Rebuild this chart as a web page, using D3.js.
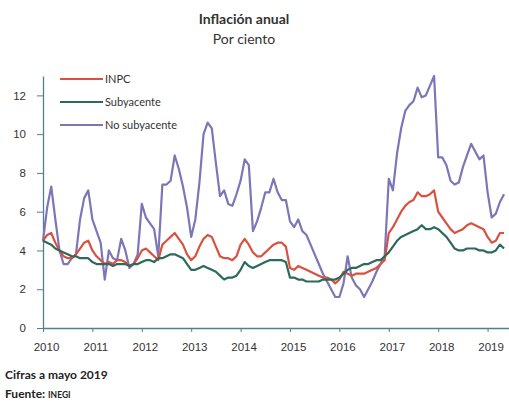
<!DOCTYPE html>
<html>
<head>
<meta charset="utf-8">
<script src="https://cdn.jsdelivr.net/npm/d3@7"></script>
<style>
  body { margin: 0; background: #fff; }
  svg { display: block; font-family: Lato, "Open Sans", sans-serif; }
</style>
</head>
<body>
<div id="chart"></div>
<script>
// Monthly annual inflation, Jan 2010 .. May 2019
const inpc = [
  4.5, 4.8, 4.9, 4.4, 4.0, 3.7, 3.6, 3.6, 3.8, 4.1, 4.4, 4.5,
  4.0, 3.7, 3.5, 3.3, 3.4, 3.3, 3.5, 3.5, 3.4, 3.2, 3.3, 3.6,
  4.0, 4.1, 3.9, 3.7, 3.5, 4.3, 4.5, 4.7, 4.9, 4.6, 4.3, 3.8,
  3.5, 3.7, 4.2, 4.6, 4.8, 4.7, 4.2, 3.7, 3.6, 3.6, 3.5, 3.7,
  4.3, 4.6, 4.3, 3.9, 3.7, 3.7, 3.9, 4.1, 4.3, 4.4, 4.4, 4.2,
  3.1, 3.0, 3.2, 3.1, 3.0, 2.9, 2.8, 2.7, 2.6, 2.6, 2.5, 2.3,
  2.5, 2.9, 2.8, 2.7, 2.8, 2.8, 2.8, 2.9, 3.0, 3.1, 3.3, 3.5,
  4.9, 5.2, 5.6, 6.0, 6.3, 6.5, 6.6, 7.0, 6.8, 6.8, 6.9, 7.1,
  6.0, 5.7, 5.4, 5.1, 4.9, 5.0, 5.1, 5.3, 5.4, 5.3, 5.2, 5.1,
  4.7, 4.4, 4.5, 4.9, 4.9
];
const subyacente = [
  4.5, 4.4, 4.3, 4.1, 4.0, 3.9, 3.8, 3.7, 3.7, 3.6, 3.6, 3.6,
  3.4, 3.3, 3.3, 3.3, 3.3, 3.2, 3.3, 3.3, 3.3, 3.2, 3.3, 3.3,
  3.4, 3.5, 3.5, 3.4, 3.6, 3.6, 3.7, 3.8, 3.8, 3.7, 3.6, 3.3,
  3.0, 3.0, 3.1, 3.2, 3.1, 3.0, 2.9, 2.7, 2.5, 2.6, 2.6, 2.7,
  3.0, 3.4, 3.2, 3.1, 3.2, 3.3, 3.4, 3.5, 3.5, 3.5, 3.5, 3.4,
  2.6, 2.6, 2.5, 2.5, 2.4, 2.4, 2.4, 2.4, 2.5, 2.5, 2.5, 2.5,
  2.6, 2.8, 3.0, 3.1, 3.1, 3.2, 3.3, 3.3, 3.4, 3.5, 3.5, 3.7,
  3.9, 4.2, 4.5, 4.7, 4.8, 4.9, 5.0, 5.1, 5.3, 5.1, 5.1, 5.2,
  5.1, 4.9, 4.7, 4.4, 4.1, 4.0, 4.0, 4.1, 4.1, 4.1, 4.0, 4.0,
  3.9, 3.9, 4.0, 4.3, 4.1
];
const noSubyacente = [
  4.5, 6.2, 7.3, 5.6, 4.0, 3.3, 3.3, 3.6, 3.8, 5.6, 6.7, 7.1,
  5.6, 5.0, 4.4, 2.5, 4.0, 3.6, 3.5, 4.6, 4.0, 3.1, 3.3, 3.8,
  6.4, 5.7, 5.4, 5.1, 3.7, 7.4, 7.4, 7.6, 8.9, 8.2, 7.3, 6.2,
  4.7, 5.6, 7.5, 10.0, 10.6, 10.3, 8.5, 6.8, 7.1, 6.4, 6.3, 6.9,
  7.6, 8.7, 8.4, 5.0, 5.5, 6.2, 7.0, 7.0, 7.7, 7.0, 6.6, 6.6,
  5.5, 5.2, 5.6, 5.0, 4.8, 4.3, 3.8, 3.3, 2.8, 2.4, 2.0, 1.6,
  1.6, 2.3, 3.7, 2.6, 2.2, 2.0, 1.6, 2.0, 2.4, 2.9, 3.3, 3.7,
  7.7, 7.1, 9.0, 10.3, 11.2, 11.5, 11.7, 12.4, 11.9, 12.0, 12.5, 13.0,
  8.8, 8.8, 8.4, 7.6, 7.4, 7.5, 8.3, 8.9, 9.5, 9.1, 8.7, 8.9,
  7.0, 5.7, 5.9, 6.5, 6.9
];
const seriesNames = ["INPC", "Subyacente", "No subyacente"];
const seriesColors = ["#d9513f", "#2e6a5c", "#7c76b8"];
const yearLabels = ["2010", "2011", "2012", "2013", "2014", "2015", "2016", "2017", "2018", "2019"];
const yTicks = [0, 2, 4, 6, 8, 10, 12];

const width = 509, height = 405;
const margin = { top: 76, right: 0, bottom: 77, left: 43 };
const axisColor = "#4f7f93";

const svg = d3.select("#chart").append("svg")
  .attr("width", width)
  .attr("height", height);

const x = d3.scaleLinear()
  .domain([0, 113.2])
  .range([margin.left, width - margin.right]);

const y = d3.scaleLinear()
  .domain([0, 13])
  .range([height - margin.bottom, margin.top]);

// Title
svg.append("text")
  .attr("x", 244).attr("y", 24)
  .attr("text-anchor", "middle")
  .attr("font-size", 14).attr("font-weight", "bold")
  .attr("fill", "#333")
  .text("Inflación anual");
svg.append("text")
  .attr("x", 244).attr("y", 44)
  .attr("text-anchor", "middle")
  .attr("font-size", 14)
  .attr("fill", "#333")
  .text("Por ciento");

// Axes
const yAxis = svg.append("g")
  .attr("transform", `translate(${margin.left},0)`)
  .call(d3.axisLeft(y).tickValues(yTicks).tickSize(6).tickPadding(11).tickSizeOuter(0));
const xAxis = svg.append("g")
  .attr("transform", `translate(0,${height - margin.bottom})`)
  .call(d3.axisBottom(x)
    .tickValues(d3.range(yearLabels.length).map(i => i * 12))
    .tickFormat((d, i) => yearLabels[i])
    .tickSize(4).tickPadding(11).tickSizeOuter(0));

[yAxis, xAxis].forEach(a => {
  a.select(".domain").attr("stroke", axisColor).attr("stroke-width", 1.3);
  a.selectAll(".tick line").attr("stroke", axisColor);
  a.selectAll(".tick text").attr("fill", "#333").attr("font-size", 11.5);
});
xAxis.selectAll(".tick text").attr("dx", 3);

// Lines
const line = d3.line()
  .x((d, i) => x(i))
  .y(d => y(d));

const series = [noSubyacente, inpc, subyacente];
const order = [2, 0, 1];
series.forEach((values, k) => {
  svg.append("path")
    .datum(values)
    .attr("fill", "none")
    .attr("stroke", seriesColors[order[k]])
    .attr("stroke-width", 2.2)
    .attr("stroke-linejoin", "round")
    .attr("d", line);
});

// Legend
const legend = svg.append("g").attr("transform", "translate(60,79)");
seriesNames.forEach((name, i) => {
  const g = legend.append("g").attr("transform", `translate(0,${i * 23})`);
  g.append("line")
    .attr("x1", 0).attr("x2", 43)
    .attr("stroke", seriesColors[i]).attr("stroke-width", 2);
  g.append("text")
    .attr("x", 45).attr("y", 4)
    .attr("font-size", 11)
    .attr("fill", "#333")
    .text(name);
});

// Footer
svg.append("text")
  .attr("x", 5).attr("y", 379)
  .attr("font-size", 12).attr("font-weight", "bold")
  .attr("fill", "#222")
  .text("Cifras a mayo 2019");
const src = svg.append("text")
  .attr("x", 5).attr("y", 398)
  .attr("font-size", 12).attr("font-weight", "bold")
  .attr("fill", "#222");
src.append("tspan").text("Fuente: ");
src.append("tspan").attr("font-size", 8.5).text("INEGI");
</script>
</body>
</html>
